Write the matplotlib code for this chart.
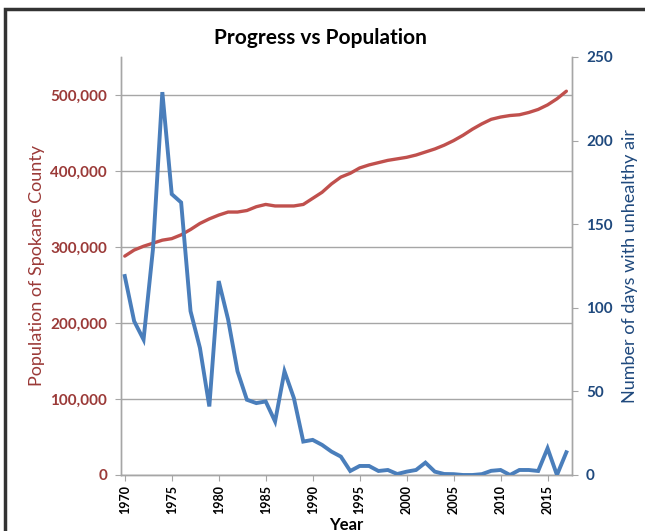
import numpy as np
import matplotlib.pyplot as plt
from matplotlib.patches import Rectangle
from matplotlib.ticker import FuncFormatter

plt.rcParams['font.family'] = ['Lato', 'DejaVu Sans']

years = list(range(1970, 2018))

# population of Spokane County
population = [288000, 296000, 301000, 305000, 309000, 311000, 316000, 323000,
              331000, 337000, 342000, 346000, 346000, 348000, 353000, 356000,
              354000, 354000, 354000, 356000, 364000, 372000, 383000, 392000,
              397000, 404000, 408000, 411000, 414000, 416000, 418000, 421000,
              425000, 429000, 434000, 440000, 447000, 455000, 462000, 468000,
              471000, 473000, 474000, 477000, 481000, 487000, 495000, 505000]

# days with unhealthy air
bad_days = [119, 92, 81, 135, 229, 168, 163, 98, 76, 41, 116, 93, 62, 45, 43, 44,
            32, 62, 46, 20, 21, 18, 14, 11, 2.4, 5.4, 5.4, 2.4, 3, 0.6, 2, 3,
            7.4, 2, 0.6, 0.5, 0, 0, 0.5, 2.5, 3, 0, 3, 3, 2.4, 16, 0, 13.6]

RED = '#C0504D'
RED_TXT = '#9B3A38'
BLUE = '#4A7EBB'
BLUE_TXT = '#1F497D'
GRID = '#A6A6A6'

fig = plt.figure(figsize=(6.45, 5.31), dpi=100)
ax = fig.add_axes([121/645, 1 - 475/531, (572 - 121)/645, (475 - 57)/531])
ax2 = ax.twinx()

ax.plot(years, population, color=RED, lw=2.4, solid_capstyle='round', zorder=3)
ax2.plot(years, bad_days, color=BLUE, lw=2.8, solid_joinstyle='miter', zorder=3)

ax.set_xlim(1969.6, 2017.6)
ax.set_ylim(0, 550000)
ax2.set_ylim(0, 250)
ax.set_xticks(range(1970, 2016, 5))
ax.set_yticks(range(0, 500001, 100000))
ax2.set_yticks(range(0, 251, 50))
ax.yaxis.set_major_formatter(FuncFormatter(lambda v, p: f'{int(v):,}'))

ax.grid(axis='y', color=GRID, lw=1)
ax.set_axisbelow(True)

for a in (ax, ax2):
    a.spines['top'].set_visible(False)
    for s in ('left', 'right', 'bottom'):
        a.spines[s].set_color(GRID)
        a.spines[s].set_linewidth(1)

ax.tick_params(axis='y', colors=GRID, labelcolor=RED_TXT, labelsize=11, length=4, pad=6)
ax2.tick_params(axis='y', colors=GRID, labelcolor=BLUE_TXT, labelsize=11, length=4, pad=6)
ax.tick_params(axis='x', colors=GRID, labelcolor='black', labelsize=9, length=4,
               labelrotation=90, pad=3)
for lab in ax.get_yticklabels() + ax2.get_yticklabels() + ax.get_xticklabels():
    lab.set_fontweight('bold')

ax.set_ylabel('Population of Spokane County', color=RED_TXT, fontsize=13, labelpad=4)
ax2.set_ylabel('Number of days with unhealthy air', color=BLUE_TXT, fontsize=13, labelpad=7)
ax.set_xlabel('Year', fontsize=12, fontweight='bold', labelpad=2)

fig.text(0.497, 1 - 38/531, 'Progress vs Population', ha='center', va='center',
         fontsize=15, fontweight='bold')

# outer chart border (cropped on the right and bottom)
fig.patches.append(Rectangle((5/645, -0.1), 1.2, 1 - 9/531 + 0.1,
                             transform=fig.transFigure, fill=False,
                             edgecolor='#333333', lw=2.5))

fig.savefig('out.png', dpi=100)
